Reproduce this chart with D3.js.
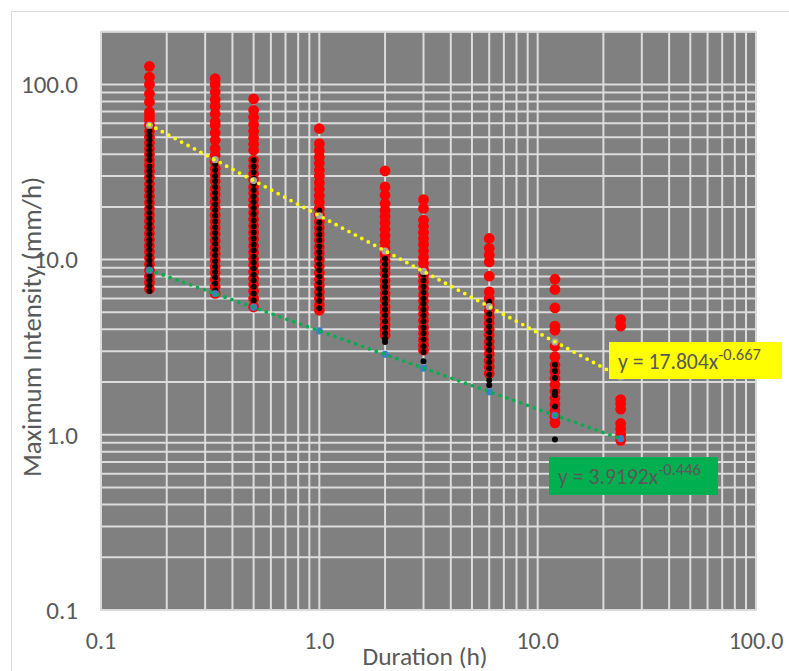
<!DOCTYPE html>
<html>
<head>
<meta charset="utf-8">
<script src="https://cdn.jsdelivr.net/npm/d3@7"></script>
<style>
  body { margin: 0; background: #fff; }
  svg { display: block; }
</style>
</head>
<body>
<svg id="chart" width="789" height="671"></svg>
<script>
// Storm durations (hours)
const durations = [1/6, 1/3, 0.5, 1, 2, 3, 6, 12, 24];

// Maximum intensity (mm/h) of every event, one list per duration — red series
const redIntensity = [
  [126.8, 110, 100, 88.5, 79.4, 69.6, 66, 62.4, 58.5, 54, 50, 46.5, 43, 40, 37, 34.5, 32, 29.5, 27, 25, 23, 21.2,
   19.5, 18, 16.6, 15.3, 14.1, 13, 12, 11.1, 10.2, 9.4, 8.7, 8.0, 7.4, 6.8],
  [108, 100, 90.5, 81.9, 75, 68, 61.1, 58.5, 53, 48, 43, 39.5, 36, 33, 30.5, 28, 25.5, 23.5, 21.5, 19.7, 18,
   16.5, 15.2, 14, 12.8, 11.7, 10.8, 9.9, 9.1, 8.4, 7.7, 7.0, 6.41],
  [82.6, 71.2, 65, 59, 54, 49.5, 45.5, 42.1, 36.9, 34, 31, 28.5, 26, 24, 22, 20.2, 18.5, 17, 15.6, 14.3, 13.1,
   12, 11, 10.1, 9.3, 8.5, 7.8, 7.2, 6.6, 6.0, 5.37],
  [56.0, 45.9, 42, 38.5, 35.5, 32.5, 30, 27.5, 25.3, 23.2, 21.3, 19.6, 18, 16.5, 15.2, 14, 12.9, 11.8, 10.9,
   10, 9.2, 8.4, 7.7, 7.1, 6.5, 6.0, 5.5, 5.14],
  [32.1, 26.0, 23.3, 20.9, 19.1, 17.6, 16.2, 14.9, 13.7, 12.6, 11.6, 10.7, 9.8, 9.0, 8.3, 7.6, 7.0, 6.4, 5.9,
   5.4, 5.0, 4.6, 4.25, 3.95, 3.71],
  [22.0, 19.6, 16.8, 15.5, 14.3, 13.2, 12.2, 11.2, 10.3, 9.5, 8.8, 8.1, 7.5, 6.9, 6.3, 5.8, 5.3, 4.9, 4.5, 4.1,
   3.8, 3.5, 3.25, 3.04],
  [13.2, 11.6, 10.6, 9.7, 8.04, 6.54, 6.0, 5.5, 5.1, 4.7, 4.35, 4.0, 3.7, 3.4, 3.15, 2.9, 2.65, 2.44, 2.24],
  [7.73, 6.75, 5.30, 4.17, 3.95, 3.21, 2.79, 2.50, 2.3, 2.1, 1.93, 1.77, 1.62, 1.49, 1.37, 1.27, 1.17],
  [4.55, 4.17, 1.59, 1.50, 1.40, 1.16, 1.08, 1.0, 0.93]
];

// Second event set, one list per duration — black series
const blackIntensity = [
  [58.5, 54, 51, 48, 45, 42, 39.5, 37, 34, 32, 30, 28, 26, 24.5, 23, 21.5, 20, 18.5, 17.2, 16, 15, 14, 13,
   12.2, 11.4, 10.6, 9.9, 9.3, 8.7, 8.1, 7.6, 7.1, 6.63],
  [37.7, 35, 32.5, 30, 28, 26, 24, 22.3, 20.7, 19.2, 17.8, 16.5, 15.3, 14.2, 13.2, 12.3, 11.4, 10.6, 9.8,
   9.1, 8.5, 7.9, 7.3, 6.69],
  [36.9, 34, 31.5, 29, 27, 25, 23, 21.3, 19.7, 18.2, 16.8, 15.5, 14.3, 13.2, 12.2, 11.3, 10.4, 9.6, 8.9,
   8.2, 7.6, 7.0, 6.4, 5.87],
  [19.1, 17.6, 16.3, 15, 13.9, 12.9, 11.9, 11, 10.2, 9.4, 8.7, 8.0, 7.4, 6.8, 6.3, 5.8, 5.28],
  [10.1, 9.4, 8.7, 8.1, 7.5, 7.0, 6.5, 6.0, 5.6, 5.2, 4.8, 4.45, 4.1, 3.8, 3.55, 3.39],
  [8.2, 7.6, 7.0, 6.5, 6.0, 5.6, 5.2, 4.8, 4.45, 4.1, 3.8, 3.5, 3.2, 2.97, 2.63],
  [5.74, 5.3, 4.9, 4.5, 4.15, 3.85, 3.55, 3.3, 3.05, 2.8, 2.6, 2.4, 2.2, 2.05, 1.92],
  [2.51, 2.31, 2.11, 1.76, 1.68, 1.45, 1.29, 0.94],
  []
];

// Upper envelope (grey markers) and lower envelope (blue markers)
const upperEnvelope = [58.5, 37.2, 28.3, 17.8, 11.2, 8.56, 5.39, 3.39, 2.14];
const lowerEnvelope = [8.71, 6.40, 5.35, 3.92, 2.88, 2.40, 1.76, 1.29, 0.95];

// Power-law trendlines y = a * x^b
const upperFit = [17.804, -0.667];
const lowerFit = [3.9192, -0.446];

// Axis ticks
const xTicks = [0.1, 1, 10, 100];
const yTicks = [0.1, 1, 10, 100];
const xDomain = [0.1, 100];
const yDomain = [0.1, 200];

const svg = d3.select("#chart");
const FONT = "Carlito, Calibri, 'Liberation Sans', Arial, sans-serif";
const TEXT = "#595959";

const plot = { left: 101, right: 756, top: 31.7, bottom: 610 };
const x = d3.scaleLog().domain(xDomain).range([plot.left, plot.right]);
const y = d3.scaleLog().domain(yDomain).range([plot.bottom, plot.top]);

// Chart frame
svg.append("rect")
  .attr("x", 11.5).attr("y", 11.5).attr("width", 800).attr("height", 700)
  .attr("fill", "#fff").attr("stroke", "#d9d9d9").attr("stroke-width", 1);

// Plot background
svg.append("rect")
  .attr("x", plot.left).attr("y", plot.top)
  .attr("width", plot.right - plot.left).attr("height", plot.bottom - plot.top)
  .attr("fill", "#808080");

// Log gridlines: every 1..9 multiple in each decade
function logLines(domain) {
  const out = [];
  for (let e = -1; e <= 2; e++) {
    for (let k = 1; k <= 9; k++) {
      const v = +(k * Math.pow(10, e)).toPrecision(3);
      if (v >= domain[0] && v <= domain[1]) out.push(v);
    }
  }
  return out;
}
const grid = svg.append("g").attr("stroke", "#dcdcdc").attr("stroke-width", 2);
grid.selectAll("line.v").data(logLines(xDomain)).join("line")
  .attr("class", "v")
  .attr("x1", d => x(d)).attr("x2", d => x(d))
  .attr("y1", plot.top).attr("y2", plot.bottom);
grid.selectAll("line.h").data(logLines(yDomain)).join("line")
  .attr("class", "h")
  .attr("x1", plot.left).attr("x2", plot.right)
  .attr("y1", d => y(d)).attr("y2", d => y(d));

// Plot border
svg.append("rect")
  .attr("x", plot.left).attr("y", plot.top)
  .attr("width", plot.right - plot.left).attr("height", plot.bottom - plot.top)
  .attr("fill", "none").attr("stroke", "#d9d9d9").attr("stroke-width", 1.5);

// Flatten a per-duration list into points
const flat = lists => lists.flatMap((vals, i) => vals.map(v => ({ d: durations[i], v })));

svg.append("g").selectAll("circle").data(flat(redIntensity)).join("circle")
  .attr("cx", p => x(p.d)).attr("cy", p => y(p.v)).attr("r", 5.4)
  .attr("fill", "#ff0000");

svg.append("g").selectAll("circle").data(flat(blackIntensity)).join("circle")
  .attr("cx", p => x(p.d)).attr("cy", p => y(p.v)).attr("r", 3)
  .attr("fill", "#000");

svg.append("g").selectAll("circle").data(upperEnvelope).join("circle")
  .attr("cx", (v, i) => x(durations[i])).attr("cy", v => y(v)).attr("r", 3.6)
  .attr("fill", "#a5a5a5");

svg.append("g").selectAll("circle").data(lowerEnvelope).join("circle")
  .attr("cx", (v, i) => x(durations[i])).attr("cy", v => y(v)).attr("r", 3.6)
  .attr("fill", "#3c7fc2");

// Trendlines (straight on log-log axes)
const xs = d3.extent(durations);
function trend(fit, color) {
  const pts = xs.map(d => [x(d), y(fit[0] * Math.pow(d, fit[1]))]);
  svg.append("path")
    .attr("d", d3.line()(pts))
    .attr("fill", "none").attr("stroke", color)
    .attr("stroke-width", 3.8).attr("stroke-linecap", "round")
    .attr("stroke-dasharray", "0 7.3");
}
trend(upperFit, "#ffff00");
trend(lowerFit, "#00b050");

// Axis tick labels
svg.append("g").selectAll("text").data(yTicks).join("text")
  .attr("x", 78).attr("y", d => y(d)).attr("dy", "0.35em")
  .attr("text-anchor", "end")
  .attr("font-family", FONT).attr("font-size", 25).attr("fill", TEXT)
  .text(d => d3.format(".1f")(d));

svg.append("g").selectAll("text").data(xTicks).join("text")
  .attr("x", d => x(d)).attr("y", 641).attr("dy", "0.35em")
  .attr("text-anchor", "middle")
  .attr("font-family", FONT).attr("font-size", 24).attr("fill", TEXT)
  .text(d => d3.format(".1f")(d));

// Axis titles
svg.append("text")
  .attr("x", 425).attr("y", 665)
  .attr("text-anchor", "middle")
  .attr("font-family", FONT).attr("font-size", 25.5).attr("fill", TEXT)
  .text("Duration (h)");

svg.append("text")
  .attr("transform", "translate(41,327) rotate(-90)")
  .attr("text-anchor", "middle")
  .attr("font-family", FONT).attr("font-size", 26.8).attr("fill", TEXT)
  .text("Maximum Intensity (mm/h)");

// Trendline equation labels
function equation(fit, bx, by, bw, bh, fill) {
  const g = svg.append("g");
  g.append("rect").attr("x", bx).attr("y", by).attr("width", bw).attr("height", bh).attr("fill", fill);
  const t = g.append("text")
    .attr("x", bx + 9).attr("y", by + 27)
    .attr("font-family", FONT).attr("fill", TEXT);
  t.append("tspan").attr("font-size", 21.7).text(`y = ${fit[0]}x`);
  t.append("tspan").attr("font-size", 16.5).attr("dy", -9).text(fit[1].toFixed(3));
}
equation(upperFit, 609, 342, 173, 37, "#ffff00");
equation(lowerFit, 549, 457, 169, 38, "#00b050");
</script>
</body>
</html>
